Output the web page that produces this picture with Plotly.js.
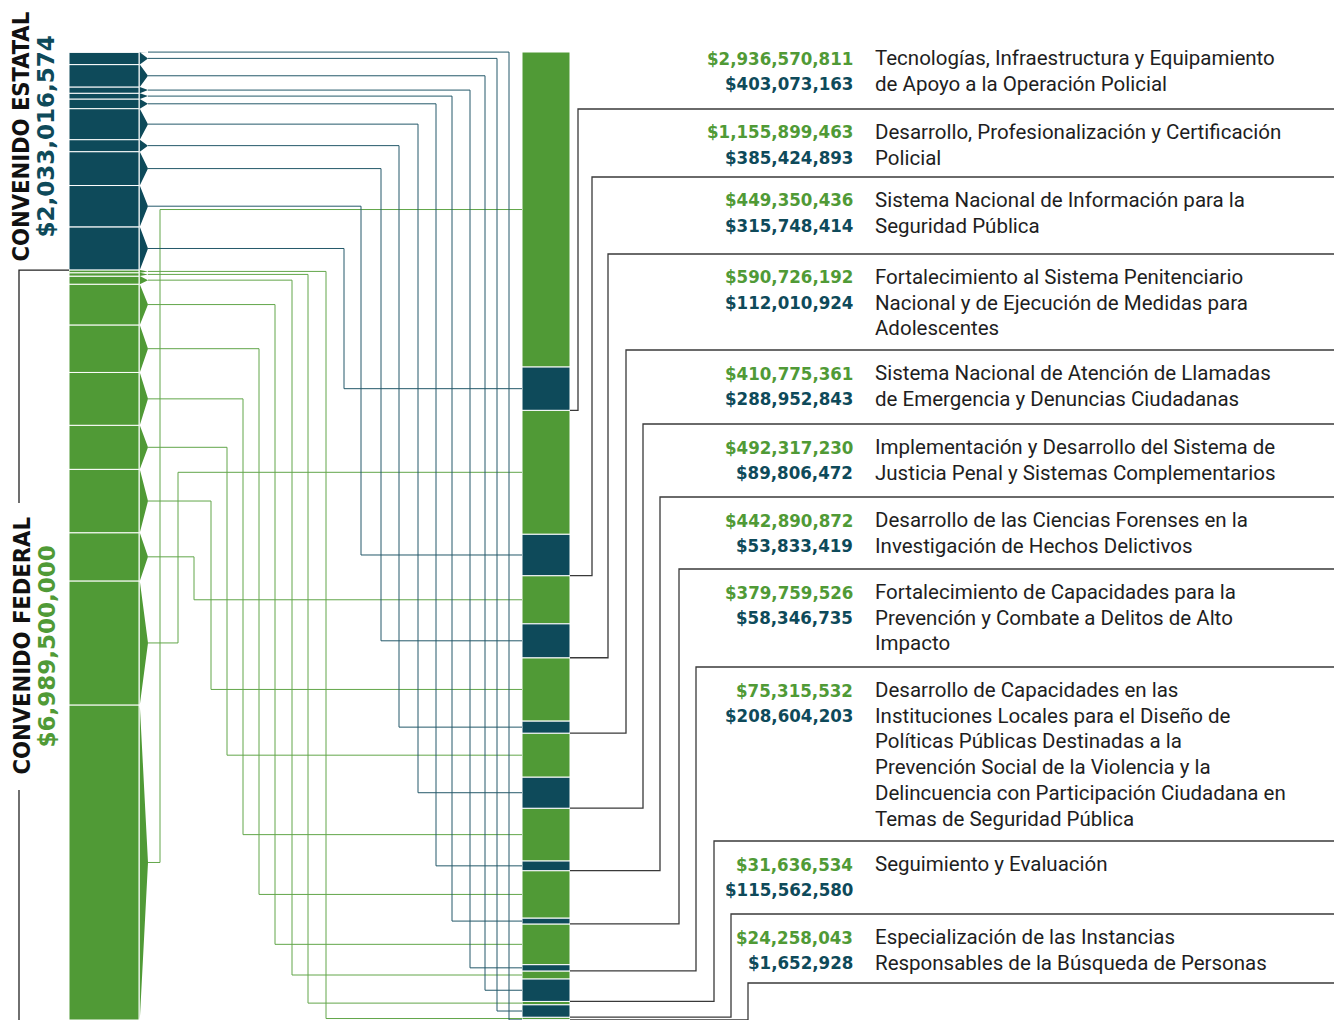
<!DOCTYPE html>
<html>
<head>
<meta charset="utf-8">
<script src="https://cdn.plot.ly/plotly-3.0.1.min.js"></script>
<style>html,body{margin:0;padding:0;background:#fff;}</style>
</head>
<body>
<div id="chart" style="width:1334px;height:1020px;"></div>
<script>
// ---------------- DATA ----------------
const programs = [
  "Tecnologías, Infraestructura y Equipamiento<br>de Apoyo a la Operación Policial",
  "Desarrollo, Profesionalización y Certificación<br>Policial",
  "Sistema Nacional de Información para la<br>Seguridad Pública",
  "Fortalecimiento al Sistema Penitenciario<br>Nacional y de Ejecución de Medidas para<br>Adolescentes",
  "Sistema Nacional de Atención de Llamadas<br>de Emergencia y Denuncias Ciudadanas",
  "Implementación y Desarrollo del Sistema de<br>Justicia Penal y Sistemas Complementarios",
  "Desarrollo de las Ciencias Forenses en la<br>Investigación de Hechos Delictivos",
  "Fortalecimiento de Capacidades para la<br>Prevención y Combate a Delitos de Alto<br>Impacto",
  "Desarrollo de Capacidades en las<br>Instituciones Locales para el Diseño de<br>Políticas Públicas Destinadas a la<br>Prevención Social de la Violencia y la<br>Delincuencia con Participación Ciudadana en<br>Temas de Seguridad Pública",
  "Seguimiento y Evaluación",
  "Especialización de las Instancias<br>Responsables de la Búsqueda de Personas"
];
const federal = [2936570811, 1155899463, 449350436, 590726192, 410775361, 492317230, 442890872, 379759526, 75315532, 31636534, 24258043];
const estatal = [403073163, 385424893, 315748414, 112010924, 288952843, 89806472, 53833419, 58346735, 208604203, 115562580, 1652928];
const sectionTitles = ["CONVENIDO ESTATAL", "CONVENIDO FEDERAL"];

// ---------------- LAYOUT / STYLE ----------------
const W = 1334, H = 1020, TOP_PX = 52;
const BLUE = "#0E4A5A", GREEN = "#509A36", INK = "#1E1E1E", RULE = "#3A3A3A";
const BLUE_LINE = "#24596A", GREEN_LINE = "#62A64A";
const LEFT_X0 = 69, LEFT_X1 = 139, ARROW_X0 = 139.8, TIP_X = 148;
const MID_X0 = 522, MID_X1 = 570;
const BLUE_ROUTE_X  = [344, 361, 381, 399, 418, 436, 452, 470, 485, 497, 509];
const GREEN_ROUTE_X = [160, 178, 194, 211, 227, 243, 259, 275, 292, 308, 326];
const RIGHT_ROUTE_X = [578, 592, 608, 626, 643, 660, 679, 696, 714, 731, 748];
const SEP_Y = [109, 177, 254, 350, 424, 497, 569, 667, 841, 914, 983];
const FIRST_BLOCK_TOP = 35, BLOCK_PAD = 23, LINE_H = 25.7;
const AMOUNT_X = 855, DESC_X = 873;
const BRACKET_X = 19;
const NUM_FONT = {family: "DejaVu Sans Condensed, sans-serif", size: 18.5, weight: 700};
const DESC_FONT = {family: "Roboto, sans-serif", size: 20.5, color: INK};
const TITLE_FONT = {family: "DejaVu Sans Condensed, DejaVu Sans, sans-serif", size: 23.5, weight: 700, color: "#111"};
const TOTAL_FONT = {family: "DejaVu Sans, sans-serif", size: 23, weight: 700};

// ---------------- COMPUTE ----------------
const n = federal.length;
const sum = a => a.reduce((s, v) => s + v, 0);
const estTotal = sum(estatal), fedTotal = sum(federal), TOTAL = estTotal + fedTotal;
const k = (H - TOP_PX) / TOTAL;          // px per unit
const px2v = p => (p - TOP_PX) / k;      // layout pixel -> value axis
const pxY = p => 1 - p / H;              // layout pixel -> paper
const money = v => "$" + v.toLocaleString("en-US");

// left bar (reverse program order, estatal then federal)
const leftEst = [], leftFed = [];
let c = 0;
for (let i = n - 1; i >= 0; i--) { leftEst[i] = {s: c, e: c + estatal[i]}; c += estatal[i]; }
for (let i = n - 1; i >= 0; i--) { leftFed[i] = {s: c, e: c + federal[i]}; c += federal[i]; }
// middle bar (program order, federal then estatal for each)
const midFed = [], midEst = [];
c = 0;
for (let i = 0; i < n; i++) {
  midFed[i] = {s: c, e: c + federal[i]}; c += federal[i];
  midEst[i] = {s: c, e: c + estatal[i]}; c += estatal[i];
}
const mid = s => (s.s + s.e) / 2;

function barTrace(segs, vals, x0, x1, color) {
  return {
    type: "bar", x: segs.map(() => (x0 + x1) / 2), y: vals, base: segs.map(s => s.s),
    width: segs.map(() => x1 - x0),
    marker: {color: color, line: {color: "#ffffff", width: 1}},
    hoverinfo: "skip", showlegend: false
  };
}
function arrowTrace(segs, color) {
  const x = [], y = [];
  segs.forEach(s => { x.push(ARROW_X0, TIP_X, ARROW_X0, null); y.push(s.s, mid(s), s.e, null); });
  return {type: "scatter", mode: "lines", x, y, fill: "toself", fillcolor: color,
          line: {width: 0, color: color}, hoverinfo: "skip", showlegend: false};
}
function connTrace(leftSegs, midSegs, routeX, color) {
  const x = [], y = [];
  for (let i = 0; i < n; i++) {
    const a = mid(leftSegs[i]), b = mid(midSegs[i]);
    x.push(TIP_X, routeX[i], routeX[i], MID_X0, null);
    y.push(a, a, b, b, null);
  }
  return {type: "scatter", mode: "lines", x, y, line: {color: color, width: 1},
          hoverinfo: "skip", showlegend: false};
}
function rightTrace() {
  const x = [], y = [];
  for (let i = 0; i < n; i++) {
    const e = midEst[i].e, sv = px2v(SEP_Y[i]);
    x.push(MID_X1, RIGHT_ROUTE_X[i], RIGHT_ROUTE_X[i], W, null);
    y.push(e, e, sv, sv, null);
  }
  return {type: "scatter", mode: "lines", x, y, line: {color: RULE, width: 1.3},
          hoverinfo: "skip", showlegend: false};
}
// bracket for federal section
const fedMidPx = 646.5, gapHalf = 143.5;
const bracket = {
  type: "scatter", mode: "lines",
  x: [LEFT_X0, BRACKET_X, BRACKET_X, null, BRACKET_X, BRACKET_X],
  y: [estTotal, estTotal, px2v(fedMidPx - gapHalf), null, px2v(fedMidPx + gapHalf), TOTAL],
  line: {color: "#222", width: 1.3}, hoverinfo: "skip", showlegend: false
};

const traces = [
  connTrace(leftFed, midFed, GREEN_ROUTE_X, GREEN_LINE),
  connTrace(leftEst, midEst, BLUE_ROUTE_X, BLUE_LINE),
  rightTrace(),
  bracket,
  barTrace(leftEst, estatal, LEFT_X0, LEFT_X1, BLUE),
  barTrace(leftFed, federal, LEFT_X0, LEFT_X1, GREEN),
  arrowTrace(leftEst, BLUE),
  arrowTrace(leftFed, GREEN),
  barTrace(midFed, federal, MID_X0, MID_X1, GREEN),
  barTrace(midEst, estatal, MID_X0, MID_X1, BLUE)
];

// ---------------- ANNOTATIONS ----------------
const annotations = [];
let blockTop = FIRST_BLOCK_TOP;
for (let i = 0; i < n; i++) {
  const t0 = blockTop;
  const rowY = r => t0 + BLOCK_PAD + r * LINE_H;
  annotations.push({x: AMOUNT_X, y: pxY(rowY(0)), xref: "x", yref: "paper", xanchor: "right", yanchor: "middle",
    text: money(federal[i]), showarrow: false, font: Object.assign({color: GREEN}, NUM_FONT)});
  annotations.push({x: AMOUNT_X, y: pxY(rowY(1)), xref: "x", yref: "paper", xanchor: "right", yanchor: "middle",
    text: money(estatal[i]), showarrow: false, font: Object.assign({color: BLUE}, NUM_FONT)});
  programs[i].split("<br>").forEach((line, r) => {
    annotations.push({x: DESC_X, y: pxY(rowY(r)), xref: "x", yref: "paper", xanchor: "left", yanchor: "middle",
      text: line, showarrow: false, font: DESC_FONT});
  });
  blockTop = SEP_Y[i];
}
// section titles (rotated)
annotations.push({x: 21, y: pxY(136.5), xref: "x", yref: "paper", xanchor: "center", yanchor: "middle",
  textangle: -90, text: sectionTitles[0], showarrow: false, font: TITLE_FONT});
annotations.push({x: 46, y: pxY(136.5), xref: "x", yref: "paper", xanchor: "center", yanchor: "middle",
  textangle: -90, text: money(estTotal), showarrow: false, font: Object.assign({color: BLUE}, TOTAL_FONT)});
annotations.push({x: 21, y: pxY(fedMidPx), xref: "x", yref: "paper", xanchor: "center", yanchor: "middle",
  textangle: -90, text: sectionTitles[1], showarrow: false, font: TITLE_FONT});
annotations.push({x: 46, y: pxY(fedMidPx), xref: "x", yref: "paper", xanchor: "center", yanchor: "middle",
  textangle: -90, text: money(fedTotal), showarrow: false, font: Object.assign({color: GREEN}, TOTAL_FONT)});

const layout = {
  width: W, height: H,
  margin: {l: 0, r: 0, t: 0, b: 0, pad: 0},
  paper_bgcolor: "#ffffff", plot_bgcolor: "#ffffff",
  barmode: "overlay", showlegend: false, hovermode: false,
  xaxis: {range: [0, W], visible: false, fixedrange: true},
  yaxis: {range: [TOTAL, -TOP_PX / k], visible: false, fixedrange: true},
  annotations: annotations
};

Plotly.newPlot("chart", traces, layout, {staticPlot: true, displayModeBar: false});
</script>
</body>
</html>
